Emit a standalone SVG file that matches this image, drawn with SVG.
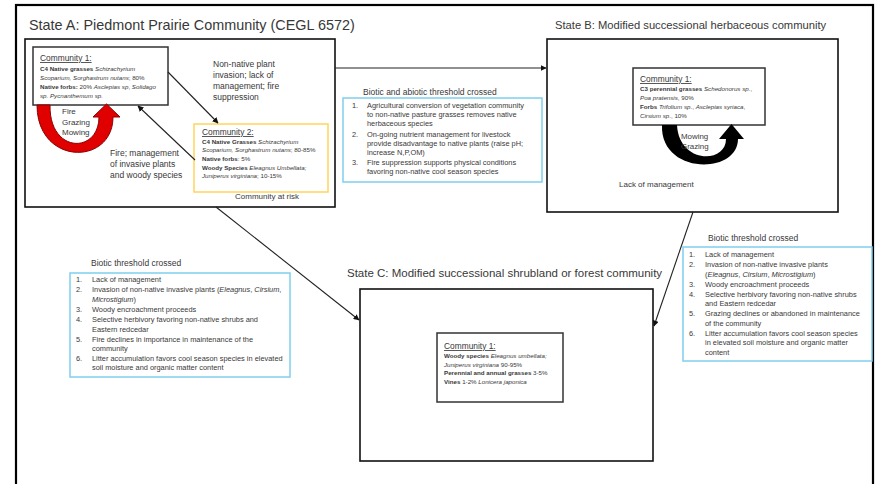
<svg xmlns="http://www.w3.org/2000/svg" width="877" height="484" viewBox="0 0 877 484">
<defs>
<marker id="ah" viewBox="0 0 10 10" refX="9" refY="5" markerWidth="6" markerHeight="6" orient="auto" markerUnits="userSpaceOnUse">
<path d="M0,0 L10,5 L0,10 z" fill="#111"/>
</marker>
<style>
text{font-family:"Liberation Sans",Arial,sans-serif;fill:#383838}
.state{fill:none;stroke:#111;stroke-width:1.6}
.comm{fill:#fff;stroke:#333;stroke-width:1.5}
.blue{fill:#fff;stroke:#7fd0ee;stroke-width:1.5}
.yel{fill:#fff;stroke:#ffd666;stroke-width:1.6}
.t1{font-size:14.4px}
.t2{font-size:11.5px}
.ct{font-size:8.4px;text-decoration:underline}
.cb{font-size:6.2px}
.lab{font-size:8.5px}
.li{font-size:7.4px}
.b{font-weight:bold}
.i{font-style:italic}
.conn{stroke:#222;stroke-width:1.1;fill:none;marker-end:url(#ah)}
</style>
</defs>
<rect x="16" y="5" width="857" height="500" fill="none" stroke="#000" stroke-width="2.2"/>

<g id="stateA">
<text class="t1" x="29" y="30">State A: Piedmont Prairie Community (CEGL 6572)</text>
<rect class="state" x="25" y="39" width="310" height="168"/>
<text class="lab" x="213" y="67">Non-native plant</text>
<text class="lab" x="213" y="78">invasion; lack of</text>
<text class="lab" x="213" y="89">management; fire</text>
<text class="lab" x="213" y="100">suppression</text>
<text class="lab" x="110" y="156">Fire; management</text>
<text class="lab" x="110" y="167">of invasive plants</text>
<text class="lab" x="110" y="178">and woody species</text>
<text class="lab" x="235" y="199" style="font-size:8px">Community at risk</text>
</g>

<g id="stateA-comm1">
<rect class="comm" x="33" y="47" width="135" height="58"/>
<text class="ct" x="40" y="61">Community 1:</text>
<text class="cb" x="40" y="71"><tspan class="b">C4  Native grasses </tspan><tspan class="i">Schizachyrium</tspan></text>
<text class="cb" x="40" y="79.5"><tspan class="i">Scoparium, Sorghastrum nutans</tspan>; 80%</text>
<text class="cb" x="40" y="89"><tspan class="b">Native forbs:</tspan> 20% <tspan class="i">Asclepias sp</tspan>, <tspan class="i">Solidago</tspan></text>
<text class="cb" x="40" y="97.5"><tspan class="i">sp. Pycnanthemum sp.</tspan></text>
</g>

<g id="stateA-cycle">
<path d="M37,105 C37,166 113,166 113,117 L120,117 L106.5,104 L93,117 L99,117 C99,154 49,154 50,105 Z" fill="#e00000" stroke="#8a0000" stroke-width="1"/>
<text class="lab" x="62" y="114" style="font-size:8px">Fire</text>
<text class="lab" x="62" y="124.5" style="font-size:8px">Grazing</text>
<text class="lab" x="62" y="135" style="font-size:8px">Mowing</text>
</g>

<g id="stateA-comm2">
<rect class="yel" x="194" y="124" width="134" height="68"/>
<text class="ct" x="202" y="135">Community 2:</text>
<text class="cb" x="202" y="143.5"><tspan class="b">C4 Native Grasses </tspan><tspan class="i">Schizachyrium</tspan></text>
<text class="cb" x="202" y="152"><tspan class="i">Scoparium, Sorghastrum nutans</tspan>; 80-85%</text>
<text class="cb" x="202" y="160.5"><tspan class="b">Native forbs</tspan>: 5%</text>
<text class="cb" x="202" y="169.5"><tspan class="b">Woody Species </tspan><tspan class="i">Eleagnus Umbellata;</tspan></text>
<text class="cb" x="202" y="178"><tspan class="i">Juniperus virginiana</tspan>; 10-15%</text>
</g>

<g id="thresholdAB">
<text class="lab" x="363" y="95">Biotic and abiotic threshold crossed</text>
<rect class="blue" x="343" y="98" width="199" height="84"/>
<text class="li" x="352" y="107.5">1.</text>
<text class="li" x="367" y="107.5">Agricultural conversion of vegetation community</text>
<text class="li" x="367" y="116.5">to non-native pasture grasses removes native</text>
<text class="li" x="367" y="125.5">herbaceous species</text>
<text class="li" x="352" y="136.5">2.</text>
<text class="li" x="367" y="136.5">On-going nutrient management for livestock</text>
<text class="li" x="367" y="145.5">provide disadvantage to native plants (raise pH;</text>
<text class="li" x="367" y="154.5">increase N,P,OM)</text>
<text class="li" x="352" y="164.5">3.</text>
<text class="li" x="367" y="164.5">Fire suppression supports physical conditions</text>
<text class="li" x="367" y="173.5">favoring non-native cool season species</text>
</g>

<g id="stateB">
<text class="t2" x="555" y="29" style="font-size:11.2px">State B: Modified successional herbaceous community</text>
<rect class="state" x="547" y="39" width="291" height="173"/>
<text class="lab" x="619" y="187" style="font-size:8px">Lack of management</text>
</g>

<g id="stateB-comm1">
<rect class="comm" x="633" y="68" width="132" height="57"/>
<text class="ct" x="640" y="82">Community 1:</text>
<text class="cb" x="640" y="91"><tspan class="b">C3 perennial grasses </tspan><tspan class="i">Schedonorus sp.</tspan>,</text>
<text class="cb" x="640" y="100"><tspan class="i">Poa pratensis</tspan>, 90%</text>
<text class="cb" x="640" y="109"><tspan class="b">Forbs</tspan>  <tspan class="i">Trifolium sp</tspan>., <tspan class="i">Asclepias syriaca</tspan>,</text>
<text class="cb" x="640" y="117.5"><tspan class="i">Cirsium sp</tspan>., 10%</text>
</g>

<g id="stateB-cycle">
<path d="M662,125 C660,175 738,175 738,139 L744,139 L731.5,124 L719,139 L726,139 C726,164 679,164 677,125 Z" fill="#000"/>
<text class="lab" x="681" y="138.5" style="font-size:7.9px">Mowing</text>
<text class="lab" x="681" y="149" style="font-size:7.9px">Grazing</text>
</g>

<g id="thresholdAC">
<text class="lab" x="91" y="266">Biotic threshold crossed</text>
<rect class="blue" x="70" y="273" width="220" height="104"/>
<text class="li" x="76" y="281.5">1.</text>
<text class="li" x="92" y="281.5">Lack of management</text>
<text class="li" x="76" y="291.5">2.</text>
<text class="li" x="92" y="291.5">Invasion of non-native invasive plants (<tspan class="i">Eleagnus</tspan>, <tspan class="i">Cirsium</tspan>,</text>
<text class="li" x="92" y="301.5"><tspan class="i">Microstigium</tspan>)</text>
<text class="li" x="76" y="312">3.</text>
<text class="li" x="92" y="312">Woody encroachment proceeds</text>
<text class="li" x="76" y="322">4.</text>
<text class="li" x="92" y="322">Selective herbivory favoring non-native shrubs and</text>
<text class="li" x="92" y="331.5">Eastern redcedar</text>
<text class="li" x="76" y="341.5">5.</text>
<text class="li" x="92" y="341.5">Fire declines in importance in maintenance of the</text>
<text class="li" x="92" y="351">community</text>
<text class="li" x="76" y="360.5">6.</text>
<text class="li" x="92" y="360.5">Litter accumulation favors cool season species in elevated</text>
<text class="li" x="92" y="370">soil moisture and organic matter content</text>
</g>

<g id="thresholdBC">
<text class="lab" x="708" y="241">Biotic threshold crossed</text>
<rect class="blue" x="683" y="247" width="189" height="114"/>
<text class="li" x="689" y="256.5">1.</text>
<text class="li" x="705" y="256.5">Lack of management</text>
<text class="li" x="689" y="266.5">2.</text>
<text class="li" x="705" y="266.5">Invasion of non-native invasive plants</text>
<text class="li" x="705" y="276.5">(<tspan class="i">Eleagnus</tspan>, <tspan class="i">Cirsium</tspan>, <tspan class="i">Microstigium</tspan>)</text>
<text class="li" x="689" y="286.5">3.</text>
<text class="li" x="705" y="286.5">Woody encroachment proceeds</text>
<text class="li" x="689" y="296.5">4.</text>
<text class="li" x="705" y="296.5">Selective herbivory favoring non-native shrubs</text>
<text class="li" x="705" y="306">and Eastern redcedar</text>
<text class="li" x="689" y="316">5.</text>
<text class="li" x="705" y="316">Grazing declines or abandoned in maintenance</text>
<text class="li" x="705" y="325.5">of the community</text>
<text class="li" x="689" y="335.5">6.</text>
<text class="li" x="705" y="335.5">Litter accumulation favors cool season species</text>
<text class="li" x="705" y="345">in elevated soil moisture and organic matter</text>
<text class="li" x="705" y="354.5">content</text>
</g>

<g id="stateC">
<text class="t2" x="347" y="277">State C: Modified successional shrubland or forest community</text>
<rect class="state" x="360" y="289" width="293" height="172"/>
</g>

<g id="stateC-comm1">
<rect class="comm" x="437" y="333" width="126" height="69"/>
<text class="ct" x="444" y="349">Community 1:</text>
<text class="cb" x="444" y="358"><tspan class="b">Woody species </tspan><tspan class="i">Eleagnus umbellata;</tspan></text>
<text class="cb" x="444" y="366.5"><tspan class="i">Juniperus virginiana</tspan> 90-95%</text>
<text class="cb" x="444" y="375"><tspan class="b">Perennial and annual grasses</tspan> 3-5%</text>
<text class="cb" x="444" y="384"><tspan class="b">Vines</tspan> 1-2% <tspan class="i">Lonicera japonica</tspan></text>
</g>

<g id="connectors">
<path class="conn" d="M335,68 L546,68"/>
<path class="conn" d="M168,72 L218,123"/>
<path class="conn" d="M195,160 L138,106"/>
<path class="conn" d="M216,207 L359,320"/>
<path class="conn" d="M693,212 L654,326"/>
</g>
</svg>
